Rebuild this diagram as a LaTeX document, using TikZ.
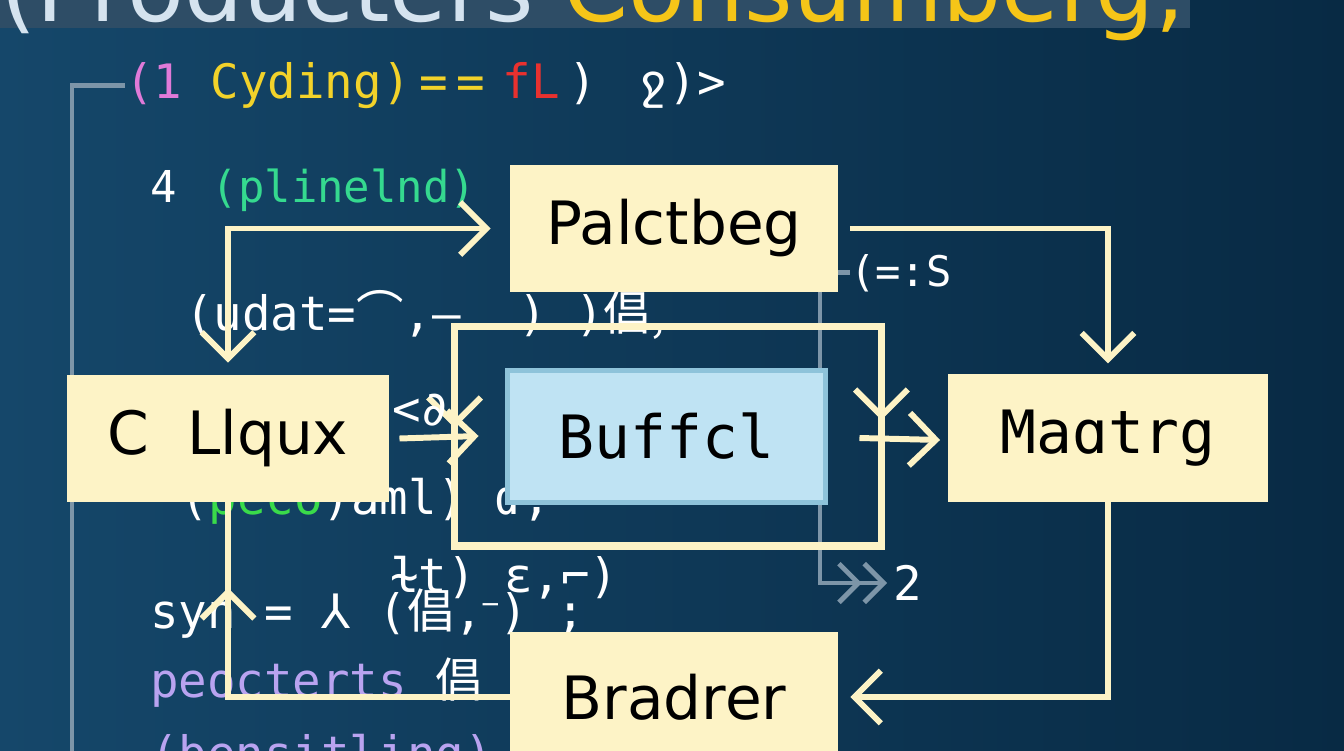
\documentclass[tikz,border=0pt]{standalone}
\usepackage{fontspec}
\setmainfont{DejaVu Sans}
\setmonofont{DejaVu Sans Mono}
\newfontfamily\cjk{Noto Sans CJK SC}
\usetikzlibrary{arrows.meta,calc,decorations.markings}
\definecolor{cream}{HTML}{FDF3C6}
\definecolor{bgL}{HTML}{15476A}
\definecolor{bgM}{HTML}{0D3656}
\definecolor{bgR}{HTML}{082A44}
\definecolor{bar}{HTML}{2E4D66}
\definecolor{ttw}{HTML}{D5E3EF}
\definecolor{tty}{HTML}{F5C518}
\definecolor{cpink}{HTML}{E07AD8}
\definecolor{cyel}{HTML}{F2D22A}
\definecolor{cred}{HTML}{E8312F}
\definecolor{cgreen}{HTML}{35D98F}
\definecolor{cgreen2}{HTML}{3ADB4A}
\definecolor{cpurple}{HTML}{B9A3F0}
\definecolor{gline}{HTML}{7D95A8}
\definecolor{bufF}{HTML}{BFE3F3}
\definecolor{bufD}{HTML}{8EC3DA}
\tikzset{
  box/.style={fill=cream, draw=none, inner sep=0pt, outer sep=0pt, text=black, font=\fontsize{34}{38}\selectfont},
  monobox/.style={box, font=\ttfamily\fontsize{34}{38}\selectfont},
  conn/.style={draw=cream, line width=3.4pt, line join=miter},
  chev/.style={-{Straight Barb[length=15pt,width=30pt]}},
  grayl/.style={draw=gline, line width=2.8pt},
  code/.style={anchor=base west, inner sep=0pt, outer sep=0pt, text=white, font=\ttfamily\fontsize{27}{30}\selectfont},
}
\begin{document}
\begin{tikzpicture}[x=0.02cm,y=-0.02cm]
\useasboundingbox (0,0) rectangle (1344,750);
\clip (0,0) rectangle (1344,750);
\shade[left color=bgL, middle color=bgM, right color=bgR] (0,0) rectangle (1344,750);
% title bar
\fill[bar] (0,0) rectangle (1190,28);
\node[code, font=\fontsize{53}{58}\selectfont] (title) at (0,22) {\color{ttw}(Producters \color{tty}Consumberg,};
% code lines
\node[code] (l1) at (125,98) {\color{cpink}(1 \color{cyel}Cyding)\kern5pt=\kern5pt=\kern10pt\color{cred}fL\kern5pt\color{white})\ \kern8pt ջ)>};
\node[code, font=\ttfamily\fontsize{25}{28}\selectfont] (l2) at (150,202) {4\ \kern5pt\color{cgreen}(plinelnd)};
\node[code] (l3) at (185,330) {(udat={\cjk ⌒},–\ \ )\ )\cjk 倡,};
\node[code] (l4) at (180,514) {(\color{cgreen2}peco\color{white})aml) ɗ,};
\node[code] (l5) at (390,592) {ɫt) ε,⌐)};
\node[code] (l6) at (150,628) {syn = {\rmfamily ⅄} ({\cjk 倡},\kern-4pt⁻\kern-3pt) ;};
\node[code, text=cpurple] (l7) at (150,697) {peocterts \color{white}\cjk 倡};
\node[code, text=cpurple] (l8) at (150,770) {(bensitling)};
\node[code, font=\ttfamily\fontsize{24}{28}\selectfont] (eqs) at (850,286) {(=:S};
\node[code, anchor=west] (two) at (893,583) {2};
% gray bracket and gray lines
\coordinate (b1) at (72,760);
\draw[grayl] (l1.west) -| (b1);
% boxes
\node[box] (pal) at (674,228.5) [minimum width=6.56cm, minimum height=2.54cm] {Palctbeg};
\node[box] (clq) at (228,438.5) [minimum width=6.46cm, minimum height=2.54cm] {C\ \ Llqux};
\node[monobox] (mag) at (1108,438) [minimum width=6.40cm, minimum height=2.56cm] {Maɑtrg};
\node[box] (brad) at (674,697) [minimum width=6.56cm, minimum height=2.60cm] {Bradrer};
\coordinate (g1) at ($(pal.south)+(146,0)$);
\draw[grayl, -{Straight Barb[length=11pt,width=22pt]Straight Barb[length=11pt,width=22pt]}] (g1) -- (g1 |- two.west) -- ($(two.west)+(-6,0)$);
\draw[grayl] (pal.east |- eqs.west) -- (eqs.west);
% loop outline and buffer
\node[draw=cream, line width=4pt, inner sep=0pt, outer sep=0pt, minimum width=8.54cm, minimum height=4.40cm] (loop) at (668,436) {};
\node[monobox, fill=bufF, draw=bufD, line width=2.8pt] (buf) at (666.5,436.5) [minimum width=6.36cm, minimum height=2.64cm] {Buffcl};
% connectors
\coordinate (c1) at (clq.north |- pal.west);
\draw[conn, {Straight Barb[length=15pt,width=30pt]}-{Straight Barb[length=15pt,width=30pt]}, shorten <=7pt, shorten >=11pt] (clq.north) -- (c1) -- (pal.west);
\draw[conn, chev, shorten >=6pt] ($(pal.east)+(12,0)$) -- (mag.north |- pal.east) -- (mag.north);
\draw[conn, chev, shorten >=7pt] (mag.south) -- (mag.south |- brad.east) -- (brad.east);
\draw[conn, postaction={decorate, decoration={markings, mark=at position 0.82 with {\arrow{Straight Barb[length=15pt,width=30pt]}}}}] (brad.west) -- (clq.south |- brad.west) -- (clq.south);
\draw[conn, chev] ($(clq.east)+(10,0)$) -- ($(loop.west)+(24,0)$);
\draw[conn, chev] ($(loop.west)+(0,-22)$) -- ($(loop.west)+(0,-8)$);
\draw[conn, chev] ($(loop.east)+(0,-32)$) -- ($(loop.east)+(0,-16)$);
\draw[conn, chev] ($(loop.east)+(-22,2)$) -- ($(mag.west)+(-8,2)$);
\node[code] (lt) at (392,425) {<∂};
\end{tikzpicture}
\end{document}
